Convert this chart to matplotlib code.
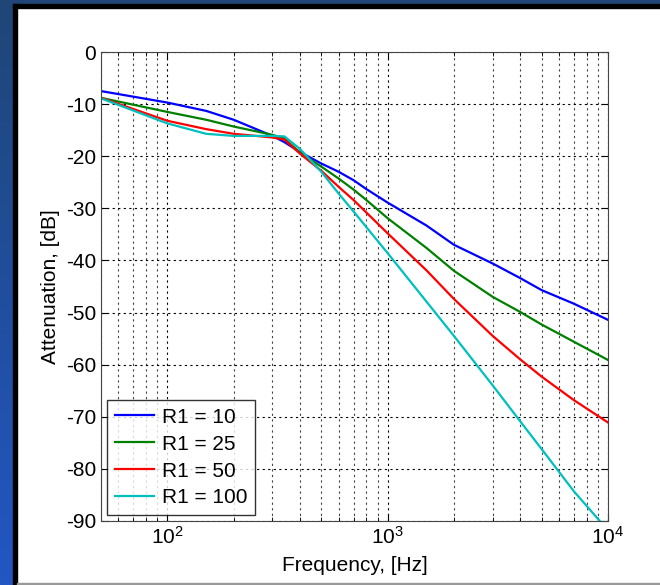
import matplotlib
matplotlib.use("Agg")
import matplotlib.pyplot as plt
import numpy as np
from matplotlib.patches import Rectangle
from matplotlib.ticker import LogLocator, NullFormatter

plt.rcParams["font.family"] = ["Liberation Sans", "DejaVu Sans"]
plt.rcParams["axes.unicode_minus"] = False

# Frequencies (Hz) at which the curves were read
freq = [50, 100, 150, 200, 300, 340, 400, 500, 600, 700, 800, 1000,
        1500, 2000, 3000, 4000, 5000, 7000, 10000]

# Attenuation in dB for each R1
att_r10 = [-7.5, -9.7, -11.3, -13.0, -16.1, -17.3, -19.2, -21.4, -23.0,
           -24.6, -26.3, -28.9, -33.3, -37.0, -40.6, -43.4, -45.7, -48.3, -51.4]
att_r25 = [-8.8, -11.5, -13.0, -14.3, -15.9, -16.6, -19.3, -22.0, -24.3,
           -26.4, -28.4, -31.9, -37.6, -42.0, -47.0, -49.9, -52.3, -55.6, -59.1]
att_r50 = [-8.8, -13.2, -14.8, -15.7, -16.4, -16.8, -19.5, -22.8, -25.9,
           -28.4, -30.8, -34.8, -41.9, -47.4, -54.5, -59.0, -62.3, -66.8, -71.1]
att_r100 = [-8.9, -13.7, -15.7, -16.1, -16.1, -16.2, -18.6, -23.0, -27.2,
            -30.6, -33.6, -38.6, -47.9, -54.5, -64.0, -70.9, -76.2, -84.3, -91.8]

labels = ["R1 = 10", "R1 = 25", "R1 = 50", "R1 = 100"]
colors = ["#0000ff", "#008000", "#ff0000", "#00bfbf"]


def main():
    fig = plt.figure(figsize=(6.6, 5.85), dpi=100)
    fig.patch.set_facecolor("white")

    # screenshot frame: blue gradient strips and dark edges
    W, H = 660, 585
    grad = fig.add_axes([0, 0, 13 / W, 1])
    g = np.linspace(0, 1, 256).reshape(-1, 1)
    cmap = matplotlib.colors.LinearSegmentedColormap.from_list(
        "frame", ["#1f4677", "#2257c4"])
    grad.imshow(g, aspect="auto", cmap=cmap, extent=[0, 1, 1, 0])
    grad.set_axis_off()
    fig.patches.append(Rectangle((0, 1 - 4 / H), 1, 4 / H, transform=fig.transFigure,
                                 color="#1f4677", zorder=0))
    fig.patches.append(Rectangle((13 / W, 0), 4 / W, 1 - 4 / H,
                                 transform=fig.transFigure, color="black"))
    fig.patches.append(Rectangle((13 / W, 1 - 8 / H), 1, 4 / H,
                                 transform=fig.transFigure, color="black"))
    fig.patches.append(Rectangle((17 / W, 0), 1, 2 / H,
                                 transform=fig.transFigure, color="#999999"))

    ax = fig.add_axes([101 / W, 1 - 521 / H, 507 / W, 469 / H])
    for y, c, lab in zip([att_r10, att_r25, att_r50, att_r100], colors, labels):
        ax.semilogx(freq, y, color=c, lw=1.6, label=lab)

    ax.set_xlim(50, 1e4)
    ax.set_ylim(-90, 0)
    ax.set_yticks(np.arange(-90, 1, 10))
    ax.xaxis.set_major_locator(LogLocator(base=10))
    ax.xaxis.set_minor_locator(LogLocator(base=10, subs=np.arange(2, 10)))
    ax.xaxis.set_minor_formatter(NullFormatter())
    ax.grid(True, which="major", ls=(0, (2, 3)), color="black", lw=0.8)
    ax.grid(True, which="minor", axis="x", ls=(0, (2, 3)), color="#444444", lw=0.8)
    ax.tick_params(axis="both", which="both", direction="in", top=True,
                   right=True, labelsize=15)
    ax.tick_params(which="major", length=5)
    ax.tick_params(which="minor", length=3)
    for s in ax.spines.values():
        s.set_color("#444444")
    ax.set_xlabel("Frequency, [Hz]", fontsize=15, labelpad=6)
    ax.set_ylabel("Attenuation, [dB]", fontsize=15, labelpad=4)

    leg = ax.legend(loc="lower left", fontsize=15, frameon=True, fancybox=False,
                    borderpad=0.35, labelspacing=0.38, handlelength=1.9,
                    handletextpad=0.4, borderaxespad=0.3)
    leg.get_frame().set_edgecolor("black")
    leg.get_frame().set_linewidth(1.0)

    fig.savefig("out.png", dpi=100)


if __name__ == "__main__":
    main()
